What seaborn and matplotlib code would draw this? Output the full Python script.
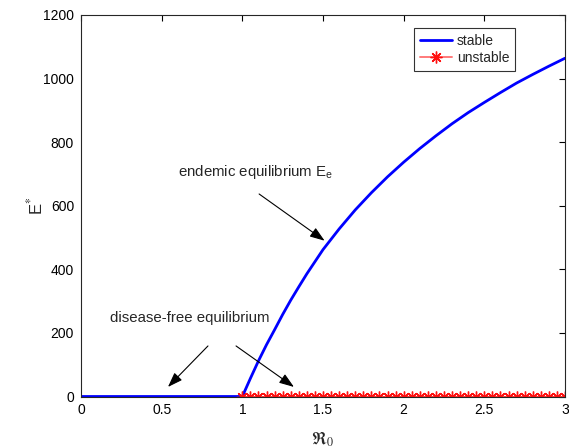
import matplotlib
matplotlib.use("Agg")
import matplotlib.pyplot as plt
import seaborn as sns
import numpy as np
import pandas as pd

# ---- data ----
r0_stable = [0.0, 0.5, 1.0, 1.05, 1.1, 1.15, 1.2, 1.25, 1.3, 1.35, 1.4, 1.45,
             1.5, 1.6, 1.7, 1.8, 1.9, 2.0, 2.1, 2.2, 2.3, 2.4, 2.5, 2.6,
             2.7, 2.8, 2.9, 3.0]
e_stable = [0, 0, 0, 57, 112, 163, 210, 258, 303, 345, 386, 424,
            462, 527, 587, 641, 691, 737, 780, 820, 858, 893, 925, 956,
            986, 1013, 1039, 1064]
r0_unstable = [1.0, 1.05, 1.1, 1.15, 1.2, 1.25, 1.3, 1.35, 1.4, 1.45, 1.5,
               1.55, 1.6, 1.65, 1.7, 1.75, 1.8, 1.85, 1.9, 1.95, 2.0,
               2.05, 2.1, 2.15, 2.2, 2.25, 2.3, 2.35, 2.4, 2.45, 2.5,
               2.55, 2.6, 2.65, 2.7, 2.75, 2.8, 2.85, 2.9, 2.95, 3.0]
e_unstable = [0] * len(r0_unstable)
x_ticks = [0, 0.5, 1, 1.5, 2, 2.5, 3]
x_ticklabels = ["0", "0.5", "1", "1.5", "2", "2.5", "3"]
y_ticks = [0, 200, 400, 600, 800, 1000, 1200]

df_s = pd.DataFrame({"R0": r0_stable, "E": e_stable})
df_u = pd.DataFrame({"R0": r0_unstable, "E": e_unstable})

sns.set_style("white")
plt.rcParams["font.family"] = ["Liberation Sans", "DejaVu Sans"]
plt.rcParams["mathtext.fontset"] = "stix"

fig = plt.figure(figsize=(5.69, 4.48), dpi=100)
ax = fig.add_axes([81 / 569, (448 - 396.5) / 448, 484 / 569, 381.5 / 448])

sns.lineplot(data=df_s, x="R0", y="E", ax=ax, color="#0000ff", linewidth=2.0,
             label="stable", sort=False)
sns.lineplot(data=df_u, x="R0", y="E", ax=ax, color="#ff7a7a", linewidth=1.4,
             marker=(8, 2, 0), markersize=8.5, markeredgecolor="#ff1010",
             markeredgewidth=1.0, label="unstable", sort=False)

ax.set_xlim(0, 3)
ax.set_ylim(0, 1200)
ax.set_xticks(x_ticks)
ax.set_xticklabels(x_ticklabels)
ax.set_yticks(y_ticks)
ax.tick_params(direction="in", length=4, width=0.8, top=True, right=True,
               labelsize=10, colors="black", pad=5)
for s in ax.spines.values():
    s.set_color("#262626")
    s.set_linewidth(0.8)

ax.set_xlabel(r"$\Re_0$", fontsize=12.5, labelpad=9)
ax.set_ylabel(r"E$^{*}$", fontsize=12, labelpad=-2)

arrow = dict(arrowstyle="-|>,head_length=0.9,head_width=0.32",
             color="black", lw=0.8, shrinkA=0, shrinkB=0)
ax.text(0.60, 706, r"endemic equilibrium E$_{\mathregular{e}}$", fontsize=10.8,
        va="center", ha="left")
ax.annotate("", xy=(1.51, 490), xytext=(1.104, 637), arrowprops=arrow)
ax.text(0.18, 247, "disease-free equilibrium", fontsize=10.8,
        va="center", ha="left")
ax.annotate("", xy=(0.539, 30), xytext=(0.787, 159), arrowprops=arrow)
ax.annotate("", xy=(1.32, 30), xytext=(0.961, 159), arrowprops=arrow)

leg = ax.legend(loc="upper right", bbox_to_anchor=(0.897, 0.966),
                borderaxespad=0, fancybox=False, edgecolor="black",
                fontsize=10, handlelength=2.3, borderpad=0.4,
                labelspacing=0.25, handletextpad=0.4)
leg.get_frame().set_linewidth(0.8)

fig.savefig("out.png", dpi=100)
